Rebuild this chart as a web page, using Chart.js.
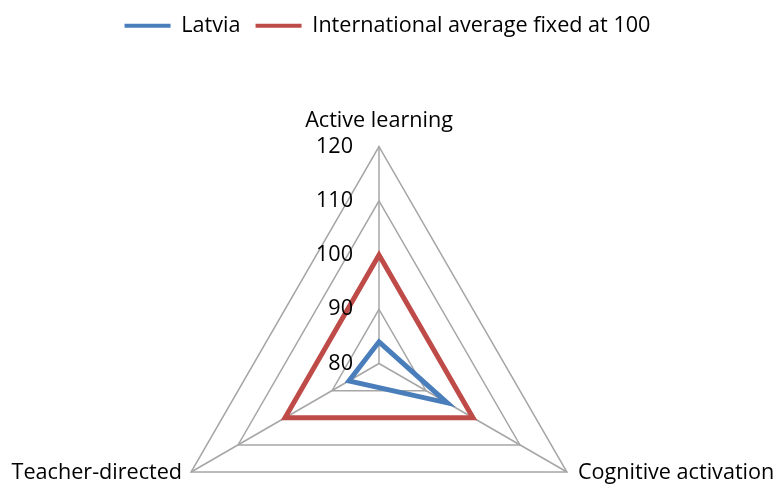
<!DOCTYPE html>
<html>
<head>
<meta charset="utf-8">
<script src="https://cdn.jsdelivr.net/npm/chart.js@4.4.1/dist/chart.umd.min.js"></script>
<style>
  html, body { margin: 0; padding: 0; background: #fff; }
  #wrap { width: 775px; height: 485px; position: relative; }
</style>
</head>
<body>
<div id="wrap"><canvas id="c" width="775" height="485"></canvas></div>
<script>
// ---- data ----
const categories = ['Active learning', 'Cognitive activation', 'Teacher-directed'];
const latviaValues = [84, 94.5, 86.4];
const internationalValues = [100, 100, 100];
const seriesNames = ['Latvia', 'International average fixed at 100'];
const tickValues = [80, 90, 100, 110, 120];

// ---- layout / style ----
const FONT = '"Open Sans"';
const FONT_SIZE = 21.6;
const CENTER = { x: 379, y: 363.5, r: 217 };
const BLUE = '#4a7ebb';
const RED = '#be4b48';
const GRID = '#a6a6a6';

const labelPlugin = {
  id: 'excelLabels',
  afterDraw(chart) {
    const s = chart.scales.r;
    const ctx = chart.ctx;
    ctx.save();
    ctx.fillStyle = '#000';
    ctx.font = FONT_SIZE + 'px ' + FONT;
    // tick labels, right-aligned left of the vertical axis
    ctx.textAlign = 'right';
    ctx.textBaseline = 'middle';
    tickValues.forEach(v => {
      const d = s.getDistanceFromCenterForValue(v);
      ctx.fillText(String(v), s.xCenter - 26, s.yCenter - d);
    });
    // category labels
    categories.forEach((lab, i) => {
      const p = s.getPointPosition(i, s.drawingArea);
      if (i === 0) {
        ctx.textAlign = 'center';
        ctx.textBaseline = 'alphabetic';
        ctx.fillText(lab, p.x, p.y - 20);
      } else if (i === 1) {
        ctx.textAlign = 'left';
        ctx.textBaseline = 'middle';
        ctx.fillText(lab, p.x + 11, p.y + 1);
      } else {
        ctx.textAlign = 'right';
        ctx.textBaseline = 'middle';
        ctx.fillText(lab, p.x - 9, p.y + 1);
      }
    });
    ctx.restore();
  }
};

new Chart(document.getElementById('c'), {
  type: 'radar',
  data: {
    labels: categories,
    datasets: [
      { label: seriesNames[0], data: latviaValues, borderColor: BLUE, backgroundColor: BLUE,
        borderWidth: 5, fill: false, pointRadius: 0, pointHoverRadius: 0, clip: false, borderJoinStyle: 'miter' },
      { label: seriesNames[1], data: internationalValues, borderColor: RED, backgroundColor: RED,
        borderWidth: 5, fill: false, pointRadius: 0, pointHoverRadius: 0, clip: false, borderJoinStyle: 'miter' }
    ]
  },
  options: {
    responsive: false,
    animation: false,
    devicePixelRatio: 1,
    layout: { padding: 0 },
    elements: { line: { tension: 0 } },
    plugins: {
      tooltip: { enabled: false },
      legend: {
        position: 'top',
        labels: {
          color: '#000',
          font: { family: FONT, size: FONT_SIZE },
          boxWidth: 46,
          boxHeight: 4,
          padding: 15,
          generateLabels(chart) {
            return chart.data.datasets.map((ds, i) => ({
              text: ds.label, fillStyle: ds.borderColor, strokeStyle: ds.borderColor,
              lineWidth: 0, hidden: false, datasetIndex: i, fontColor: '#000'
            }));
          }
        }
      }
    },
    scales: {
      r: {
        min: 80, max: 120,
        ticks: { display: false, stepSize: 10 },
        pointLabels: { display: false },
        grid: { color: GRID, lineWidth: 1.5, circular: false },
        angleLines: { color: GRID, lineWidth: 1.5 },
        afterFit(scale) {
          scale.xCenter = CENTER.x;
          scale.yCenter = CENTER.y;
          scale.drawingArea = CENTER.r;
        }
      }
    }
  },
  plugins: [labelPlugin]
});
</script>
</body>
</html>
